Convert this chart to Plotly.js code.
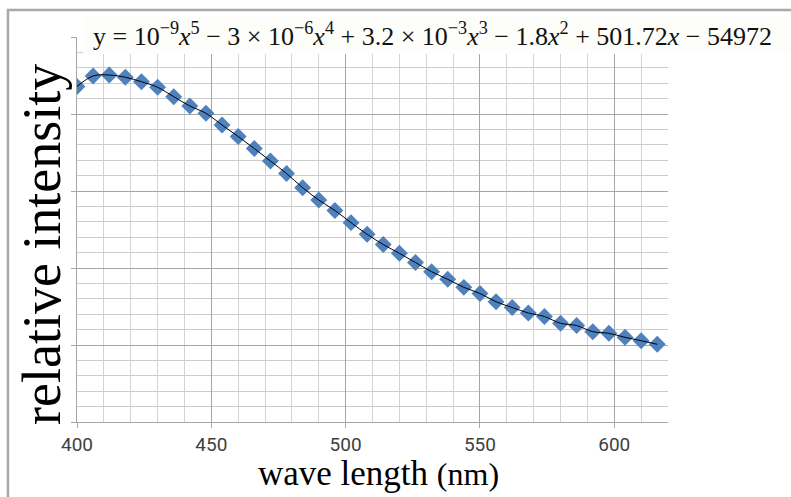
<!DOCTYPE html>
<html>
<head>
<meta charset="utf-8">
<script src="https://cdn.plot.ly/plotly-3.0.1.min.js"></script>
<style>html,body{margin:0;padding:0;background:#fff;}#chart{width:791px;height:497px;}</style>
</head>
<body>
<div id="chart"></div>
<script>
// wavelength (nm)
const wavelength = [400,406,412,418,424,430,436,442,448,454,460,466,472,478,484,490,496,502,508,514,520,526,532,538,544,550,556,562,568,574,580,586,592,598,604,610,616];
// relative intensity (arbitrary units)
const intensity = [4.357,4.494,4.506,4.477,4.419,4.347,4.225,4.104,4.009,3.857,3.708,3.552,3.390,3.227,3.043,2.883,2.747,2.589,2.438,2.305,2.191,2.071,1.952,1.853,1.749,1.669,1.562,1.487,1.416,1.370,1.282,1.253,1.173,1.152,1.100,1.056,1.009];
const xTickVals = [400,450,500,550,600];
const xTickText = ['400','450','500','550','600'];
const equationText = 'y = 10<sup>−9</sup><i>x</i><sup>5</sup> − 3 × 10<sup>−6</sup><i>x</i><sup>4</sup> + 3.2 × 10<sup>−3</sup><i>x</i><sup>3</sup> − 1.8<i>x</i><sup>2</sup> + 501.72<i>x</i> − 54972';
const xTitle = 'wave length <span style="font-size:32px">(nm)</span>';
const yTitle = 'relative intensity';

const traces = [
  {x: wavelength, y: intensity, type:'scatter', mode:'markers', marker:{symbol:'diamond', size:13, color:'#4F81BD', line:{width:0}}, showlegend:false},
  {x: wavelength, y: intensity, type:'scatter', mode:'lines', line:{color:'#000', width:1, shape:'spline', smoothing:1}, hoverinfo:'skip', showlegend:false}
];

const layout = {
  width:791, height:497,
  margin:{l:77, r:123, t:37, b:75, pad:0},
  paper_bgcolor:'#fff', plot_bgcolor:'#fff',
  showlegend:false,
  xaxis:{range:[400,620], tickvals:xTickVals, ticktext:xTickText, ticks:'outside', ticklen:5, tickcolor:'#a6a6a6',
    showgrid:true, gridcolor:'#a6a6a6', gridwidth:1, zeroline:false, showline:true, linecolor:'#a6a6a6', linewidth:1,
    minor:{dtick:10, tick0:400, showgrid:true, gridcolor:'#d3d3d3', gridwidth:1, ticks:''},
    tickfont:{family:'"Liberation Sans Narrow", "Roboto", sans-serif', size:19, color:'#404040'}},
  yaxis:{range:[0,5], dtick:1, tick0:0, showticklabels:false, ticks:'outside', ticklen:5, tickcolor:'#a6a6a6',
    showgrid:true, gridcolor:'#a6a6a6', gridwidth:1, zeroline:false, showline:true, linecolor:'#a6a6a6', linewidth:1,
    minor:{dtick:0.2, tick0:0, showgrid:true, gridcolor:'#cccccc', gridwidth:1, ticks:''}},
  shapes:[
    {type:'rect', xref:'paper', yref:'paper', x0:0.0102, x1:1.21, y0:0.9558, y1:1.0519, fillcolor:'#fdfdf9', line:{width:0}, layer:'above'},
    {type:'rect', xref:'paper', yref:'paper', x0:-0.1168, x1:1.4, y0:-0.4, y1:1.0701, fillcolor:'rgba(0,0,0,0)', line:{color:'#a9a9a9', width:2.5}, layer:'above'}
  ],
  annotations:[
    {text:equationText, xref:'paper', yref:'paper', x:0.6015, y:1.006, xanchor:'center', yanchor:'middle', showarrow:false,
      font:{family:'"Liberation Serif", "DejaVu Serif", serif', size:26, color:'#111'}},
    {text:xTitle, xref:'paper', yref:'paper', x:0.51, y:-0.135, xanchor:'center', yanchor:'middle', showarrow:false,
      font:{family:'"Liberation Serif", "Times New Roman", serif', size:35, color:'#000'}},
    {text:yTitle, xref:'paper', yref:'paper', x:-0.0592, y:0.4597, xanchor:'center', yanchor:'middle', textangle:-90, showarrow:false,
      font:{family:'"Liberation Serif", "Times New Roman", serif', size:54, color:'#000'}}
  ]
};
Plotly.newPlot('chart', traces, layout, {displayModeBar:false, staticPlot:true});
</script>
</body>
</html>
